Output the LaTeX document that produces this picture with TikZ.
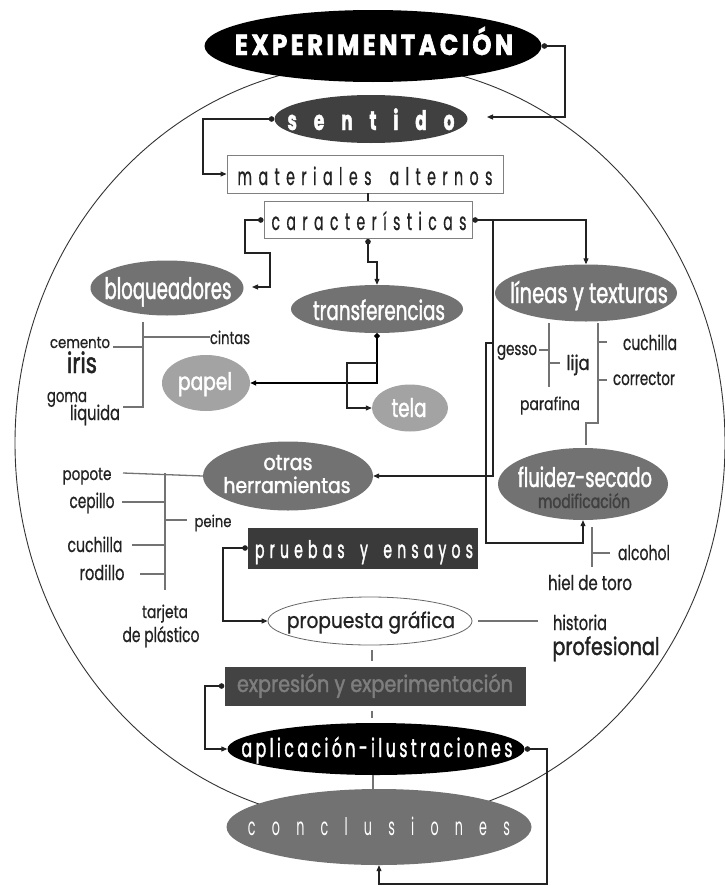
\documentclass[tikz,border=0pt]{standalone}
\usepackage{fontspec}
\usepackage{graphicx}
\setmainfont{Poppins}[FakeStretch=0.55]
\newfontfamily\medf{Poppins}[FakeStretch=0.55,FakeBold=1.2]
\newfontfamily\regf{Poppins}[FakeStretch=0.55,FakeBold=0.5]
\newfontfamily\heavyf{Poppins}[FakeStretch=0.55,FakeBold=1.5,BoldFeatures={FakeBold=1.5}]
\usetikzlibrary{shapes.geometric,arrows.meta}
\makeatletter
\newcommand\trk[2]{\def\trk@f{1}\@tfor\trk@c:=#2\do{\ifx\trk@f\@empty\hspace{#1}\fi\trk@c\let\trk@f\@empty}}
\makeatother
% width, font size, text
\newcommand\tx[3]{\fontsize{#2pt}{#2pt}\selectfont\resizebox{#1pt}{\height}{#3}}
\definecolor{gmid}{HTML}{727272}
\definecolor{glight}{HTML}{A3A3A3}
\definecolor{gsen}{HTML}{404040}
\definecolor{gpru}{HTML}{3A3A3A}
\definecolor{gexr}{HTML}{434343}
\definecolor{gexrt}{HTML}{7E7E7E}
\definecolor{ink}{HTML}{222222}
\begin{document}
\begin{tikzpicture}[x=1pt,y=-1pt,
  ell/.style={ellipse, inner sep=0pt, draw=none},
  box/.style={rectangle, inner sep=0pt},
  wt/.style={inner sep=0pt, anchor=base, text=white, font=\medf},
  bt/.style={inner sep=0pt, anchor=base, text=ink, font=\regf},
  conn/.style={draw=ink, line width=1.1pt},
  thickconn/.style={draw=black, line width=1.9pt},
  arr/.style={-{Triangle[length=6pt,width=5pt]}},
  darr/.style={{Circle[length=5.5pt]}-{Triangle[length=6pt,width=5pt]}},
  tree/.style={draw=black!55, line width=1.3pt},
  rim/.style={draw=black!80, line width=0.9pt}
]
\useasboundingbox (0,0) rectangle (725,886);
\fill[white] (0,0) rectangle (725,886);
% big enclosing ellipse
\draw[rim] (370,443) ellipse [x radius=355pt, y radius=380pt];

% ---- shapes
\node[ell, fill=black, minimum width=337pt, minimum height=72pt] (exp) at (373,46) {};
\node[ell, fill=gsen, minimum width=193pt, minimum height=48pt] (sen) at (371,119) {};
\node[box, draw=black!50, line width=0.9pt, fill=white, minimum width=276pt, minimum height=38pt] (mat) at (365,174) {};
\node[box, draw=black!50, line width=0.9pt, fill=white, minimum width=208pt, minimum height=37pt] (car) at (368,220) {};
\node[ell, fill=gmid, minimum width=153pt, minimum height=55pt] (blo) at (167,288) {};
\node[ell, fill=gmid, minimum width=172pt, minimum height=48pt] (tra) at (377,309) {};
\node[ell, fill=glight, minimum width=88pt, minimum height=56pt] (pap) at (206,383) {};
\node[ell, fill=glight, minimum width=76pt, minimum height=47pt] (tel) at (410,408) {};
\node[ell, fill=gmid, minimum width=182pt, minimum height=57pt] (lin) at (586,293) {};
\node[ell, fill=gmid, minimum width=170pt, minimum height=72pt] (flu) at (583,484) {};
\node[ell, fill=gmid, minimum width=170pt, minimum height=69pt] (otr) at (288,476) {};
\node[box, fill=gpru, minimum width=230pt, minimum height=41pt] (pru) at (363,548) {};
\node[ell, draw=black!60, line width=0.8pt, fill=white, minimum width=204pt, minimum height=48pt] (pro) at (370,621) {};
\node[box, fill=gexr, minimum width=301pt, minimum height=39pt] (exr) at (375,686) {};
\node[ell, fill=black, minimum width=297pt, minimum height=52pt] (apl) at (376,749) {};
\node[ell, fill=gmid, minimum width=305pt, minimum height=76pt] (con) at (379,827) {};

% ---- main labels (placed on their baselines)
\node[wt, font=\heavyf] (exp-t) at (374,55) {\bfseries\tx{278}{29}{\trk{0.08em}{EXPERIMENTACIÓN}}};
\node[wt, font=\heavyf] (sen-t) at (371,130) {\bfseries\tx{167}{27}{\trk{0.55em}{sentido}}};
\node[bt] (mat-t) at (365,185) {\tx{255}{24.3}{\trk{0.25em}{materiales}\hspace{0.7em}\trk{0.25em}{alternos}}};
\node[bt] (car-t) at (369,230) {\tx{195}{24.3}{\trk{0.25em}{características}}};
\node[wt] (blo-t) at (168,299) {\tx{127}{29.7}{bloqueadores}};
\node[wt] (tra-t) at (379,320) {\tx{132}{27}{transferencias}};
\node[wt] (pap-t) at (205,390) {\tx{54}{24.3}{papel}};
\node[wt] (tel-t) at (409,417) {\tx{35}{25.7}{tela}};
\node[wt] (lin-t) at (589,303) {\tx{158}{28.4}{líneas y texturas}};
\node[wt] (flu-t) at (585,487) {\tx{134}{27}{fluidez-secado}};
\node[inner sep=0pt, anchor=base, text=black!75, font=\medf] (flu-m) at (584,508) {\tx{92}{18.9}{modificación}};
\node[wt] (otr-1) at (288,470) {\tx{49}{22}{otras}};
\node[wt] (otr-2) at (287,493) {\tx{127}{21.6}{herramientas}};
\node[wt] (pru-t) at (364,558) {\tx{218}{24.3}{\trk{0.2em}{pruebas}\hspace{0.6em}y\hspace{0.6em}\trk{0.2em}{ensayos}}};
\node[bt] (pro-t) at (371,628) {\tx{168}{21.6}{propuesta gráfica}};
\node[inner sep=0pt, anchor=base, text=gexrt, font=\medf] (exr-t) at (375,692) {\tx{276}{23}{expresión y experimentación}};
\node[wt] (apl-t) at (377,757) {\tx{271}{25.7}{\trk{0.12em}{aplicación-ilustraciones}}};
\node[wt, font=\rmfamily] (con-t) at (379,835) {\tx{262}{24.3}{\trk{0.7em}{conclusiones}}};

% ---- small labels
\node[bt] (cintas) at (230,344) {\tx{40}{17.6}{cintas}};
\node[bt] (cemento) at (80,348) {\tx{60}{16.2}{cemento}};
\node[bt, font=\medf] (iris) at (82,373) {\tx{30}{28.4}{iris}};
\node[bt] (goma) at (67,402) {\tx{40}{18.2}{goma}};
\node[bt] (liquida) at (95,420) {\tx{50}{20.3}{liquida}};
\node[bt] (gesso) at (517,355) {\tx{40}{18.2}{gesso}};
\node[bt] (lija) at (578,370) {\tx{23}{20.3}{lija}};
\node[bt] (parafina) at (550,410) {\tx{60}{17.6}{parafina}};
\node[bt] (cuchA) at (650,350) {\tx{54}{20.3}{cuchilla}};
\node[bt] (corrector) at (644,385) {\tx{62}{19.1}{corrector}};
\node[bt] (alcohol) at (644,560) {\tx{52}{20.3}{alcohol}};
\node[bt] (hiel) at (590,590) {\tx{84}{20.3}{hiel de toro}};
\node[bt] (popote) at (87,480) {\tx{49}{17.6}{popote}};
\node[bt] (cepillo) at (92,508) {\tx{45}{20.3}{cepillo}};
\node[bt] (peine) at (213,527) {\tx{37}{16.2}{peine}};
\node[bt] (cuchB) at (95,552) {\tx{55}{20.3}{cuchilla}};
\node[bt] (rodillo) at (102,580) {\tx{45}{20.3}{rodillo}};
\node[bt] (tarjeta) at (165,618) {\tx{46}{17.6}{tarjeta}};
\node[bt] (deplast) at (161,642) {\tx{77}{20.3}{de plástico}};
\node[bt] (historia) at (580,630) {\tx{54}{20.3}{historia}};
\node[bt, font=\medf] (profesional) at (606,655) {\tx{107}{24.3}{profesional}};

% ---- connectors
\coordinate (senR) at (487,117);
\draw[conn,darr] (exp.east) -| (565,117) -- (senR);
\draw[conn,darr] (sen.west) -- (203,119) |- (mat.west);
\draw[conn] (car.north) -- (car.north |- mat.south);
\coordinate (bloR) at (252,287);
\draw[conn,darr] (car.west) -- (245,220) -- (245,253) -- (270,253) -- (270,287) -- (bloR);
\draw[conn,darr] (car.south) -- (368,262) -- (377,262) -- (tra.north);
\draw[conn,darr] (car.east) -| (lin.north);
\draw[conn,arr] (493,220) |- (otr.east);
\draw[conn,arr] (493,343) -- (486,343) -- (486,543) -| (flu.south);
\draw[thickconn,darr] (tra.south) |- (pap.east);
\draw[conn,arr] (377,363) -- (347,363) |- (tel.west);
\draw[conn,darr] (pru.west) -- (223,548) |- (pro.west);
\draw[conn,darr] (exr.west) -- (205,686) |- (apl.west);
\draw[conn,darr] (apl.east) -- (547,749) -- (547,884) -| (con.south);

% ---- grey links
\draw[tree] ([xshift=6pt]pro.east) -- (538,621);
\draw[tree, shorten <=5pt, shorten >=5pt] (pro.south -| 372,0) -- (exr.north -| 372,0);
\draw[tree, shorten <=5pt, shorten >=5pt] (exr.south -| 372,0) -- (apl.north -| 372,0);
\draw[tree] (apl.south -| 373,0) -- (con.north -| 373,0);

% ---- trees
\draw[tree] (143,322) -- (143,407) -- (123,407);
\draw[tree] (143,337) -- (cintas.west |- 0,337);
\draw[tree] (143,347) -- (113,347);
\draw[tree] (549,323) -- (549,387);
\draw[tree] (539,350) -- (549,350);
\draw[tree] (549,363) -- (560,363);
\draw[tree] (598,323) -- (598,423) -- (586,423) -- (586,445);
\draw[tree] (598,342) -- (607,342);
\draw[tree] (598,380) -- (607,380);
\draw[tree] (592,527) -- (592,567);
\draw[tree] (592,553) -- (610,553);
\draw[tree] (123,473) -- (otr.west);
\draw[tree] (165,473) -- (165,590);
\draw[tree] (122,502) -- (165,502);
\draw[tree] (165,520) -- (187,520);
\draw[tree] (132,545) -- (165,545);
\draw[tree] (140,574) -- (165,574);
\end{tikzpicture}
\end{document}
